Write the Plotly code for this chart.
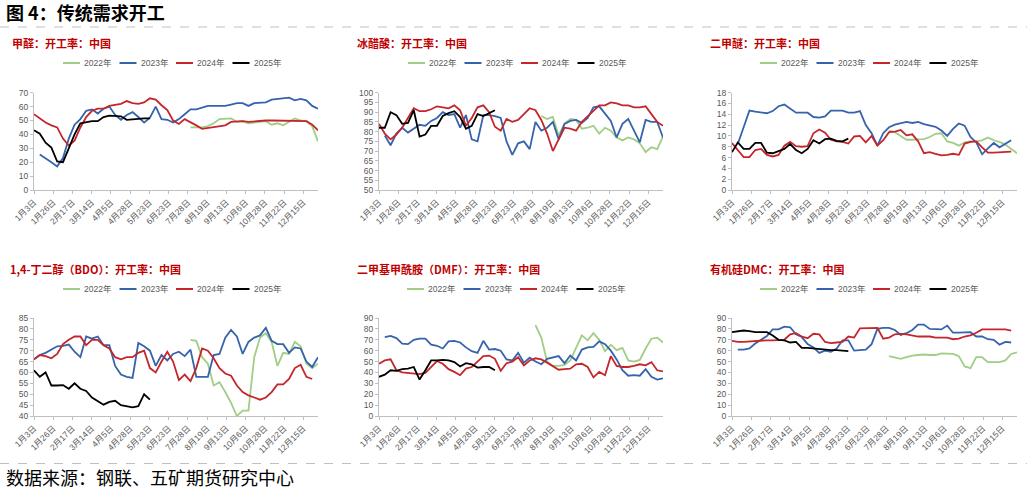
import plotly.graph_objects as go

W, H = 1027, 492
FONT = "Noto Sans CJK SC"
LATIN_FONT = "Liberation Sans, Noto Sans CJK SC"

N_WEEKS = 50
WEEK = list(range(N_WEEKS))
TICK_LABELS = ["1月3日", "1月26日", "2月17日", "3月14日", "4月5日", "4月28日", "5月23日",
               "6月23日", "7月28日", "8月19日", "9月13日", "10月6日", "10月28日", "11月22日", "12月15日"]
TICK_STEP = 3.32
YEARS = ["2022年", "2023年", "2024年", "2025年"]
YEAR_COLORS = ["#A0CE84", "#3563AC", "#C4262C", "#000000"]


def place(start, vals):
    out = [None] * N_WEEKS
    for i, v in enumerate(vals):
        out[start + i] = v
    return out


# ---------------- 甲醛 ----------------
HCHO_2022 = place(27, [45, 45, 45, 46, 48, 51, 51, 51.5, 49, 49.5, 48, 48.5, 49.5, 49.5, 47, 48, 46.5,
                       49, 51.5, 50, 49.5, 46, 35])
HCHO_2023 = place(1, [25.5, 23, 20, 17, 23, 37, 47, 51, 57, 58,
                      55, 58.5, 60, 54, 50.5, 54, 56, 52.5, 48.5, 52,
                      60, 51, 50.5, 48.5, 51, 54.5, 58, 58, 59, 60.5,
                      60.5, 60.5, 60.5, 61.5, 62.5, 62.5, 60.5, 62.5, 63, 63,
                      65, 65.5, 66, 66.5, 64.5, 65.5, 64.5, 60.5, 58.5])
HCHO_2024 = place(0, [54.5, 51.5, 48.5, 46.5, 45, 37, 32, 35.5, 45, 52.5,
                      57, 58.5, 58.5, 60.5, 61, 62, 64, 62.5, 62, 63,
                      66, 65, 61, 57.5, 50, 47.5, 51, 49, 46.5, 44,
                      44.5, 45.5, 46, 46.5, 49, 49.5, 49.5, 49, 49.5, 49.5,
                      50, 50, 50, 49.5, 49.5, 49.5, 49.5, 49.5, 47, 43])
HCHO_2025 = place(0, [43, 40.5, 34, 30.5, 20.5, 20, 30, 40, 48, 49, 49.5, 49.5, 52.5, 53.5, 53.5, 53,
                      50.5, 51, 51, 51.5, 51.5])

# ---------------- 冰醋酸 ----------------
HAC_2022 = place(28, [88, 86.5, 87.5, 78, 84, 86.5, 86, 81.5, 82, 83, 79, 82, 80.5, 77, 75.5, 77, 76, 74,
                      69.5, 72, 71, 77.5])
HAC_2023 = place(1, [78, 73, 79, 82, 79.5, 81.5, 83.5, 83, 85.5, 87,
                     90, 88.5, 89, 82, 88.5, 76, 75, 88.5, 88.5, 88,
                     87, 75, 68, 74, 75, 71, 85, 80.5, 82, 85,
                     76, 84, 85.5, 86, 84.5, 87, 92.5, 93, 89, 85.5,
                     77, 84, 86.5, 80.5, 74.5, 86, 85, 85, 77])
HAC_2024 = place(0, [84, 79, 76, 78.5, 82, 87, 92, 90.5, 90.5, 91.5,
                     93, 92.5, 92, 93.5, 91, 83, 87, 92.5, 93.5, 90,
                     82.5, 80.5, 86.5, 85, 86, 89, 92, 91, 86, 79,
                     70, 76, 82, 81.5, 80.5, 85, 88, 91, 93.5, 93.5,
                     95, 94.5, 93.5, 93.5, 92.5, 92.5, 93, 89, 85, 83])
HAC_2025 = place(0, [82, 82, 90, 88.5, 84, 84.5, 91, 77.5, 78.5, 83, 83, 88, 89.5, 90.5, 87.5, 81.5,
                     83, 89, 88, 89.5, 91])

# ---------------- 二甲醚 ----------------
DME_2022 = place(27, [11, 10.7, 10, 9.3, 9.3, 9.4, 9.4, 9.8, 10.4, 10.5, 9, 8.7, 8.2, 8.8, 9, 9, 9.2,
                      9.7, 9.2, 8.9, 8.4, 7.6, 6.8])
DME_2023 = place(1, [8.5, 11.5, 14.7, 14.5, 14.3, 14.2, 14.6, 15.5, 15.8, 15,
                     14.3, 14.3, 14.3, 13.5, 13.4, 13.6, 14.7, 14.7, 14.7, 14.3,
                     14.3, 14.6, 12, 10.5, 8.2, 10.5, 11.6, 12.1, 12.4, 12.6,
                     12.4, 12.6, 12.2, 11.9, 11.7, 11, 10, 11.3, 12.3, 11.9,
                     9.8, 8.8, 6.6, 7.7, 8.7, 7.9, 8.5, 9.2])
DME_2024 = place(0, [8.7, 7.5, 6.1, 6.1, 7.4, 7.6, 6.5, 6.2, 6.5, 8.2,
                     8.9, 8.1, 8, 8.1, 10.5, 11.2, 10.6, 9.3, 9, 8.9,
                     8.6, 9.9, 10, 8.8, 10, 8.2, 9.2, 10.7, 10.8, 11.1,
                     10.1, 10.3, 9, 6.8, 7, 6.7, 6.4, 6.5, 6.7, 6.5,
                     8.6, 8.9, 9, 7.9, 6.9, 6.9, 7, 7, 7.1])
DME_2025 = place(0, [7, 8.8, 7.6, 7.6, 8.7, 8.7, 6.9, 6.8, 7.2, 7.6, 8.5, 7.4, 6.8, 7.6, 9.2, 8.6, 9.4,
                     9.5, 9.1, 9, 9.5])

# ---------------- BDO ----------------
BDO_2022 = place(27, [75, 74.5, 67, 64, 54, 55.5, 51, 46, 40, 42.5, 42.5, 67, 76, 78, 74, 63, 69, 68.5,
                      74, 72, 64, 62, 64])
BDO_2023 = place(0, [66, 68, 69, 70.5, 72, 72.2, 72.8, 69.5, 67, 76.5,
                     75.5, 76.5, 72.5, 72.5, 63, 59, 58, 57.5, 73.5, 72,
                     70, 63, 68, 65.5, 68.5, 69.5, 67.5, 70.5, 58, 58,
                     58, 68, 68.5, 76, 79.5, 76.5, 68.5, 74, 76, 77,
                     80.5, 74.5, 73, 73, 69, 71.5, 71, 65, 62.5, 67])
BDO_2024 = place(0, [66, 68, 67.5, 66.5, 68.5, 73, 75, 76.5, 76.5, 72.5,
                     75, 75, 72.5, 71, 67, 66, 67, 67, 69, 70,
                     62, 60, 65, 69.5, 65, 56.5, 59, 56, 62, 71,
                     70, 66.5, 62, 59.5, 58.5, 54, 51, 49.5, 48.5, 47.5,
                     48.5, 51, 54.5, 54.5, 57, 62, 63.5, 58, 57])
BDO_2025 = place(0, [61, 58, 60, 54, 54, 54.2, 52.5, 55, 52.5, 51.5, 48.5, 47, 45.2, 46.5, 47, 45,
                     44.5, 44, 44.5, 50, 47.5])

# ---------------- DMF ----------------
DMF_2022 = place(27, [83.5, 72, 50, 46, 46, 47, 51, 62, 74, 69.5, 76, 70, 59.5, 65.5, 60.5, 62.5, 51,
                      50, 51.5, 62, 71, 72, 67.5])
DMF_2023 = place(1, [72.5, 73.5, 71.5, 66.5, 66, 70, 71, 71, 65.5, 64.5,
                     62, 68.5, 69, 67.5, 63, 59.5, 58, 69, 61, 61.5,
                     60, 52, 51, 58, 49, 53.5, 50, 47.5, 52.5, 54,
                     55, 48.5, 55.5, 51, 61, 63, 63.5, 68.5, 66, 60,
                     52, 42, 37, 37.5, 37, 43, 36, 33.5, 34.5])
DMF_2024 = place(0, [48, 51, 52, 42, 40, 39.5, 38.5, 38.5, 39.5, 45,
                     50.5, 48, 43, 40.5, 37.5, 43.5, 45, 50, 55, 55.5,
                     52.5, 41.5, 48.5, 50, 54, 46.5, 51, 53, 52, 49,
                     46, 42.5, 43, 43.5, 47.5, 48, 45, 35.5, 40.5, 37.5,
                     55, 46, 45, 45, 46, 47.5, 46.5, 49.5, 42, 41])
DMF_2025 = place(0, [36, 38, 42, 41.5, 43, 43.5, 45, 33.5, 42, 51, 51, 51.5, 51, 49.5, 45.5, 48.5,
                     47.5, 44.5, 45, 45, 42])

# ---------------- 有机硅DMC ----------------
DMC_2022 = place(27, [55, 54, 52.5, 54, 55.5, 56, 56.5, 56, 56, 57.5, 57.5, 57, 55, 45.5, 44, 54, 54,
                      49.5, 49.5, 49.5, 51, 57, 58.5])
DMC_2023 = place(1, [61, 61, 62, 66.5, 70, 73.5, 79.5, 79.5, 82, 81.5,
                     75, 72.5, 66, 63, 58, 60, 59, 62, 69.5, 69.5,
                     60, 60.5, 61, 66, 80, 81, 81, 79, 74.5, 76,
                     79, 84, 84, 80, 79.5, 79.5, 83, 76.5, 76.5, 76.5,
                     77, 73, 73, 70.5, 70, 65.5, 68, 67.5])
DMC_2024 = place(0, [69, 68, 68, 68.5, 69, 69.5, 69.5, 69.5, 69.5, 70,
                     75, 76, 73, 71.5, 75.5, 75, 68, 67, 67.5, 68,
                     73, 72, 80.5, 80.5, 81, 81, 71, 72, 75, 75.5,
                     75, 74, 73, 73, 73, 72, 72, 72, 70.5, 71,
                     73, 74, 76.5, 79.5, 79.5, 79.5, 80, 79.5, 78.5])
DMC_2025 = place(0, [77, 77.5, 78.5, 78, 77, 77, 77, 74, 70, 69.5, 67.5, 68, 62.5, 62.5, 62, 61.5,
                     60.5, 60.5, 60.5, 60, 59.5])

PANELS = [
    dict(title="甲醛：开工率：中国", series=[HCHO_2022, HCHO_2023, HCHO_2024, HCHO_2025],
         yrange=[0, 70], dtick=10, px=(34, 318), py=(92.7, 190), tx=10, ty=43, lx=63, ly=63),
    dict(title="冰醋酸：开工率：中国", series=[HAC_2022, HAC_2023, HAC_2024, HAC_2025],
         yrange=[50, 100], dtick=5, px=(379, 663), py=(92.7, 190), tx=355, ty=43, lx=408, ly=63),
    dict(title="二甲醚：开工率：中国", series=[DME_2022, DME_2023, DME_2024, DME_2025],
         yrange=[0, 18], dtick=2, px=(732, 1017), py=(92.7, 190), tx=708, ty=43, lx=760, ly=63),
    dict(title="1,4-丁二醇（BDO）：开工率：中国", series=[BDO_2022, BDO_2023, BDO_2024, BDO_2025],
         yrange=[40, 85], dtick=5, px=(34, 318), py=(318, 416), tx=8, ty=269, lx=63, ly=289),
    dict(title="二甲基甲酰胺（DMF）：开工率：中国", series=[DMF_2022, DMF_2023, DMF_2024, DMF_2025],
         yrange=[0, 90], dtick=10, px=(379, 663), py=(318, 416), tx=355, ty=269, lx=407, ly=289),
    dict(title="有机硅DMC：开工率：中国", series=[DMC_2022, DMC_2023, DMC_2024, DMC_2025],
         yrange=[0, 90], dtick=10, px=(732, 1017), py=(318, 416), tx=708, ty=269, lx=760, ly=289),
]

LEGEND_PITCH = 56.5
LEGEND_KEY = 17


def fx(x):
    return x / W


def fy(y):
    return 1 - y / H


AXIS_COLOR = "#BFBFBF"
TEXT_GRAY = "#595959"

fig = go.Figure()
annotations = []
shapes = []
layout = dict(
    width=W, height=H, margin=dict(l=0, r=0, t=0, b=0, autoexpand=False),
    paper_bgcolor="white", plot_bgcolor="white",
    font=dict(family=LATIN_FONT, color=TEXT_GRAY, size=9),
    hovermode=False, showlegend=False,
)

for k, p in enumerate(PANELS):
    n = "" if k == 0 else str(k + 1)
    xa, ya = "x" + n, "y" + n
    for j, (year, color, vals) in enumerate(zip(YEARS, YEAR_COLORS, p["series"])):
        fig.add_trace(go.Scatter(
            x=WEEK, y=vals, mode="lines", name=year,
            line=dict(color=color, width=1.8),
            xaxis=xa, yaxis=ya, showlegend=False,
        ))
        # legend key + label
        kx = p["lx"] + j * LEGEND_PITCH
        shapes.append(dict(type="line", xref="paper", yref="paper",
                           x0=fx(kx), x1=fx(kx + LEGEND_KEY), y0=fy(p["ly"]), y1=fy(p["ly"]),
                           line=dict(color=color, width=2)))
        annotations.append(dict(text=year, x=fx(kx + LEGEND_KEY + 2), y=fy(p["ly"]),
                                xref="paper", yref="paper", xanchor="left", yanchor="middle",
                                showarrow=False,
                                font=dict(size=8.5, color=TEXT_GRAY, family=LATIN_FONT)))
    layout["xaxis" + n] = dict(
        domain=[fx(p["px"][0]), fx(p["px"][1])], anchor=ya,
        range=[0, N_WEEKS - 1], tickmode="array",
        tickvals=[i * TICK_STEP for i in range(len(TICK_LABELS))], ticktext=TICK_LABELS,
        tickangle=-45, tickfont=dict(size=8.5, color=TEXT_GRAY, family=LATIN_FONT),
        showline=True, linecolor=AXIS_COLOR, linewidth=1,
        ticks="outside", ticklen=3, tickcolor=AXIS_COLOR,
        showgrid=False, zeroline=False, automargin=False,
    )
    layout["yaxis" + n] = dict(
        domain=[fy(p["py"][1]), fy(p["py"][0])], anchor=xa,
        range=p["yrange"], dtick=p["dtick"], tick0=p["yrange"][0],
        tickfont=dict(size=8.5, color=TEXT_GRAY, family=LATIN_FONT),
        showline=True, linecolor=AXIS_COLOR, linewidth=1,
        ticks="outside", ticklen=3, tickcolor=AXIS_COLOR,
        showgrid=False, zeroline=False, automargin=False,
    )
    annotations.append(dict(
        text="<b>" + p["title"] + "</b>", x=fx(p["tx"]), y=fy(p["ty"]), xref="paper", yref="paper",
        xanchor="left", yanchor="middle", showarrow=False,
        font=dict(size=11, color="#C00000", family=FONT),
    ))

annotations.append(dict(
    text="<b>图 4：传统需求开工</b>", x=fx(4), y=fy(12.5), xref="paper", yref="paper",
    xanchor="left", yanchor="middle", showarrow=False,
    font=dict(size=18, color="#000000", family=FONT),
))
annotations.append(dict(
    text="数据来源：钢联、五矿期货研究中心", x=fx(4), y=fy(477), xref="paper", yref="paper",
    xanchor="left", yanchor="middle", showarrow=False,
    font=dict(size=18, color="#000000", family=FONT),
))

shapes.append(dict(type="line", xref="paper", yref="paper", x0=0, x1=1, y0=fy(27), y1=fy(27),
                   line=dict(color="#BFBFBF", width=1, dash="dash")))
shapes.append(dict(type="line", xref="paper", yref="paper", x0=0, x1=1, y0=fy(463.5), y1=fy(463.5),
                   line=dict(color="#BFBFBF", width=1, dash="dash")))

layout["annotations"] = annotations
layout["shapes"] = shapes
fig.update_layout(**layout)
fig.write_html(
    "out.html",
    config={"displayModeBar": False, "staticPlot": True},
    post_script="document.body.style.margin='0px';document.body.style.overflow='hidden';",
)
